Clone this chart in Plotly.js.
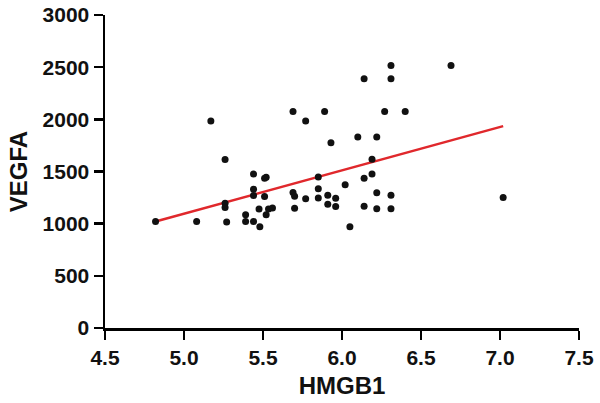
<!DOCTYPE html>
<html>
<head>
<meta charset="utf-8">
<script src="https://cdn.plot.ly/plotly-3.0.1.min.js"></script>
<style>
  html, body { margin: 0; padding: 0; background: #fff; }
  #chart { width: 600px; height: 403px; }
</style>
</head>
<body>
<div id="chart"></div>
<script>
// HMGB1 vs VEGFA
const hmgb1 = [
    4.82, 5.08, 5.17, 5.26, 5.26, 5.26, 5.27, 5.39, 5.39, 5.44,
    5.44, 5.44, 5.44, 5.48, 5.475, 5.52, 5.51, 5.51, 5.52, 5.535,
    5.56, 5.69, 5.69, 5.70, 5.70, 5.77, 5.77, 5.85, 5.85, 5.85,
    5.89, 5.91, 5.91, 5.93, 5.96, 5.96, 6.02, 6.05, 6.10, 6.14,
    6.14, 6.14, 6.19, 6.19, 6.22, 6.22, 6.22, 6.27, 6.31, 6.31,
    6.31, 6.31, 6.40, 6.69, 7.02
];
const vegfa = [
    1020, 1020, 1985, 1615, 1195, 1155, 1015, 1085, 1020, 1475,
    1330, 1270, 1020, 970, 1140, 1445, 1435, 1260, 1085, 1140,
    1150, 2075, 1298, 1262, 1148, 1985, 1240, 1448, 1334, 1245,
    2075, 1272, 1186, 1775, 1243, 1165, 1373, 970, 1830, 2390,
    1435, 1167, 1618, 1476, 1830, 1296, 1142, 2075, 2515, 2390,
    1273, 1142, 2075, 2515, 1250
];

// regression line end points
const fitX = [4.82, 7.02];
const fitY = [1020, 1935];

const xTicks = [4.5, 5.0, 5.5, 6.0, 6.5, 7.0, 7.5];
const yTicks = [0, 500, 1000, 1500, 2000, 2500, 3000];

const fontFamily = 'Liberation Sans, Arial, Helvetica, sans-serif';

let traces = [
    {
        x: fitX,
        y: fitY,
        type: 'scatter',
        mode: 'lines',
        line: {color: '#e0282c', width: 2.5},
        hoverinfo: 'skip'
    },
    {
        x: hmgb1,
        y: vegfa,
        type: 'scatter',
        mode: 'markers',
        marker: {color: '#111', size: 7}
    }
];

let axisCommon = {
    showgrid: false,
    zeroline: false,
    showline: true,
    linecolor: '#000',
    linewidth: 2.5,
    ticks: 'outside',
    tickcolor: '#000',
    tickwidth: 2.5,
    ticklen: 9,
    tickfont: {family: fontFamily, size: 21, color: '#111', weight: 'bold'}
};

let layout = {
    width: 600,
    height: 403,
    margin: {l: 105, r: 21, t: 15, b: 75},
    paper_bgcolor: '#fff',
    plot_bgcolor: '#fff',
    showlegend: false,
    xaxis: Object.assign({}, axisCommon, {
        range: [4.5, 7.5],
        tickvals: xTicks,
        ticktext: xTicks.map(v => v.toFixed(1)),
        title: {
            text: 'HMGB1',
            font: {family: fontFamily, size: 24, color: '#111', weight: 'bold'},
            standoff: 10
        }
    }),
    yaxis: Object.assign({}, axisCommon, {
        range: [0, 3000],
        tickvals: yTicks,
        ticktext: yTicks.map(String),
        title: {
            text: 'VEGFA',
            font: {family: fontFamily, size: 24, color: '#111', weight: 'bold'},
            standoff: 8
        }
    })
};

let config = {displayModeBar: false, staticPlot: true};

Plotly.newPlot('chart', traces, layout, config);
</script>
</body>
</html>
